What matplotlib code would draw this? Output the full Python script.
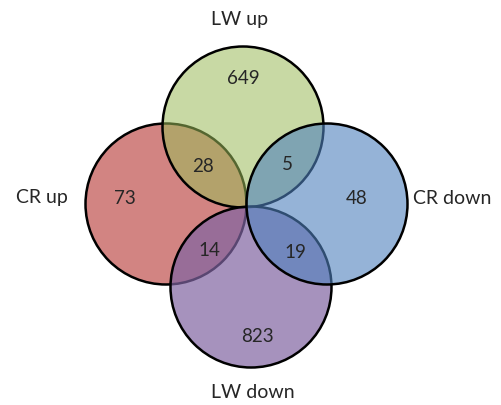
import matplotlib.pyplot as plt
from matplotlib.patches import Circle

# sets, drawn in this order (later ones cover earlier edges)
set_names = ['CR up', 'LW up', 'LW down', 'CR down']
set_colors = ['#c0504d', '#9bbb59', '#8064a2', '#4f81bd']
set_alpha = [0.7, 0.55, 0.7, 0.6]
centers = [(166, 204), (243, 127), (251, 287), (327, 204)]
radius = 80.5
name_pos = [(42, 198), (240, 20), (253, 392), (452, 198)]

# region counts
region_counts = ['649', '28', '5', '73', '48', '14', '19', '823']
region_pos = [(243, 78), (203, 167), (287, 165), (125, 198),
              (357, 198), (209, 250), (295, 252), (257, 336)]

fig = plt.figure(figsize=(5.01, 4.05), dpi=100, facecolor='w')
ax = fig.add_axes([0, 0, 1, 1])
ax.set_xlim(0, 501)
ax.set_ylim(405, 0)
ax.set_aspect('equal')
ax.axis('off')

for c, col, a in zip(centers, set_colors, set_alpha):
    fc = plt.matplotlib.colors.to_rgba(col, a)
    ax.add_patch(Circle(c, radius, facecolor=fc, edgecolor='black', linewidth=1.8))

for name, (x, y) in zip(set_names, name_pos):
    ax.text(x, y, name, ha='center', va='center', fontsize=14, family='Lato', color='#262626')

for cnt, (x, y) in zip(region_counts, region_pos):
    ax.text(x, y, cnt, ha='center', va='center', fontsize=13.5, family='Lato', color='#262626')

plt.savefig('out.png', dpi=100)
